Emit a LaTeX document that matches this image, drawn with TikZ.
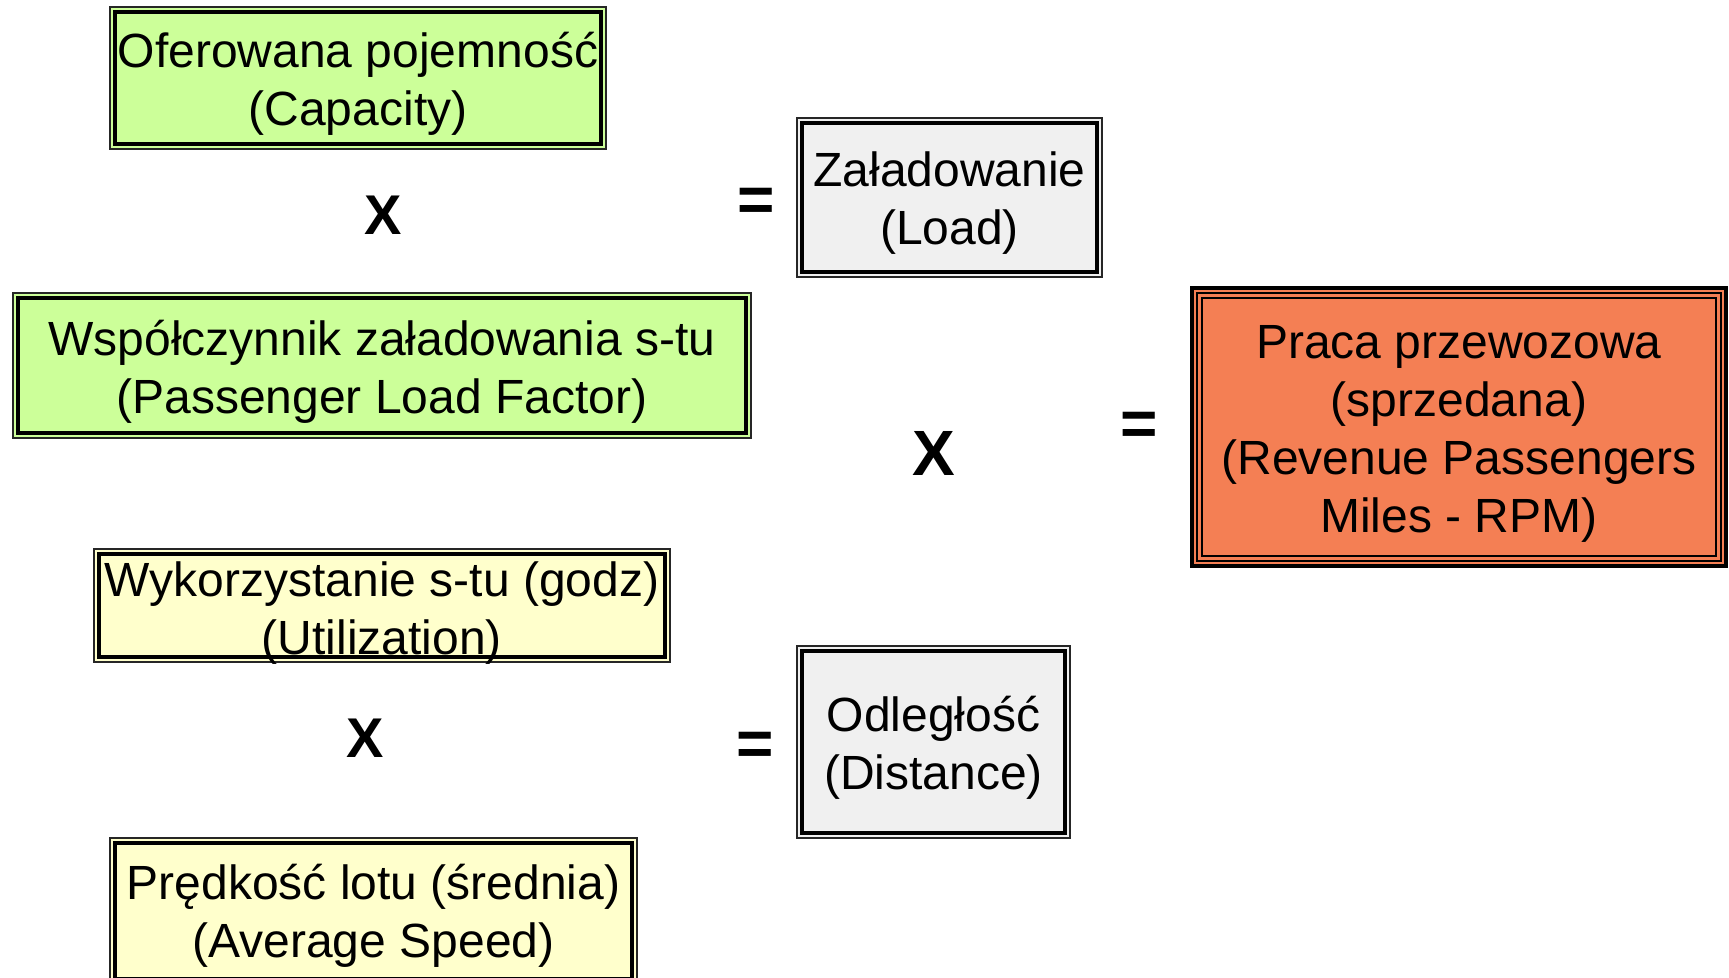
\documentclass[tikz,border=0pt]{standalone}
\usepackage{fontspec}
\setmainfont{Liberation Sans}
\definecolor{boxgreen}{RGB}{204,255,153}
\definecolor{boxyellow}{RGB}{255,255,204}
\definecolor{boxgrey}{RGB}{240,240,240}
\definecolor{boxorange}{RGB}{244,127,84}
\newcommand{\innerframe}[3]{\draw[line width=#2] ([xshift=#3,yshift=-#3]#1.north west) rectangle ([xshift=-#3,yshift=#3]#1.south east);}
\tikzset{
  box/.style={draw=black!85, line width=1.3pt, inner sep=0pt, outer sep=0pt},
  txt/.style={align=center, inner sep=0pt, font={\fontsize{48}{58}\selectfont}},
  opsmall/.style={inner sep=0pt, font={\fontsize{56}{56}\selectfont\bfseries}},
  opbig/.style={inner sep=0pt, font={\fontsize{64}{64}\selectfont\bfseries}},
}
\begin{document}
\begin{tikzpicture}[x=1pt,y=-1pt]
\useasboundingbox (0,0) rectangle (1729,977);
\clip (0,0) rectangle (1729,977);
\fill[white] (0,0) rectangle (1729,977);

% left column
\node[box, fill=boxgreen, minimum width=496pt, minimum height=142pt] (b1) at (358,78) {};
\innerframe{b1}{4.5pt}{5pt}
\node[txt] (t1) at ([yshift=-6pt]b1.center) {Oferowana pojemność\\(Capacity)};

\node[box, fill=boxgreen, minimum width=738pt, minimum height=145pt] (b2) at (382,365.5) {};
\innerframe{b2}{4.5pt}{5pt}
\node[txt] (t2) at ([yshift=-6pt]b2.center) {Współczynnik załadowania s-tu\\(Passenger Load Factor)};

\node[box, fill=boxyellow, minimum width=576pt, minimum height=113pt] (b3) at (382,605.5) {};
\innerframe{b3}{4.5pt}{5pt}
\node[txt] (t3) at ([yshift=-8pt]b3.center) {Wykorzystanie s-tu (godz)\\(Utilization)};

\node[box, fill=boxyellow, minimum width=527pt, minimum height=146pt] (b4) at (373.5,911) {};
\innerframe{b4}{4.5pt}{5pt}
\node[txt] (t4) at ([yshift=-5pt]b4.center) {Prędkość lotu (średnia)\\(Average Speed)};

% middle column
\node[box, fill=boxgrey, minimum width=305pt, minimum height=159pt] (load) at (949.5,197.5) {};
\innerframe{load}{4.5pt}{5pt}
\node[txt] (tload) at ([yshift=-6pt]load.center) {Załadowanie\\(Load)};

\node[box, fill=boxgrey, minimum width=273pt, minimum height=192pt] (dist) at (933.5,742) {};
\innerframe{dist}{4.5pt}{5pt}
\node[txt] (tdist) at ([yshift=-6pt]dist.center) {Odległość\\(Distance)};

% result
\node[draw=black, line width=4pt, fill=boxorange, inner sep=0pt, minimum width=534pt, minimum height=278pt] (rpm) at (1459,427) {};
\innerframe{rpm}{1.5pt}{7pt}
\innerframe{rpm}{2pt}{12pt}
\node[txt] (trpm) at ([yshift=-7pt]rpm.center) {Praca przewozowa\\(sprzedana)\\(Revenue Passengers\\Miles - RPM)};

% operators
\node[opsmall] (x1) at (383.5,215) {X};
\node[opbig] (e1) at (756,205) {=};
\node[opbig] (x2) at (934,453.5) {X};
\node[opbig] (e2) at (1139.5,429) {=};
\node[opsmall] (x3) at (365.5,738) {X};
\node[opbig] (e3) at (755.5,748.5) {=};
\end{tikzpicture}
\end{document}
